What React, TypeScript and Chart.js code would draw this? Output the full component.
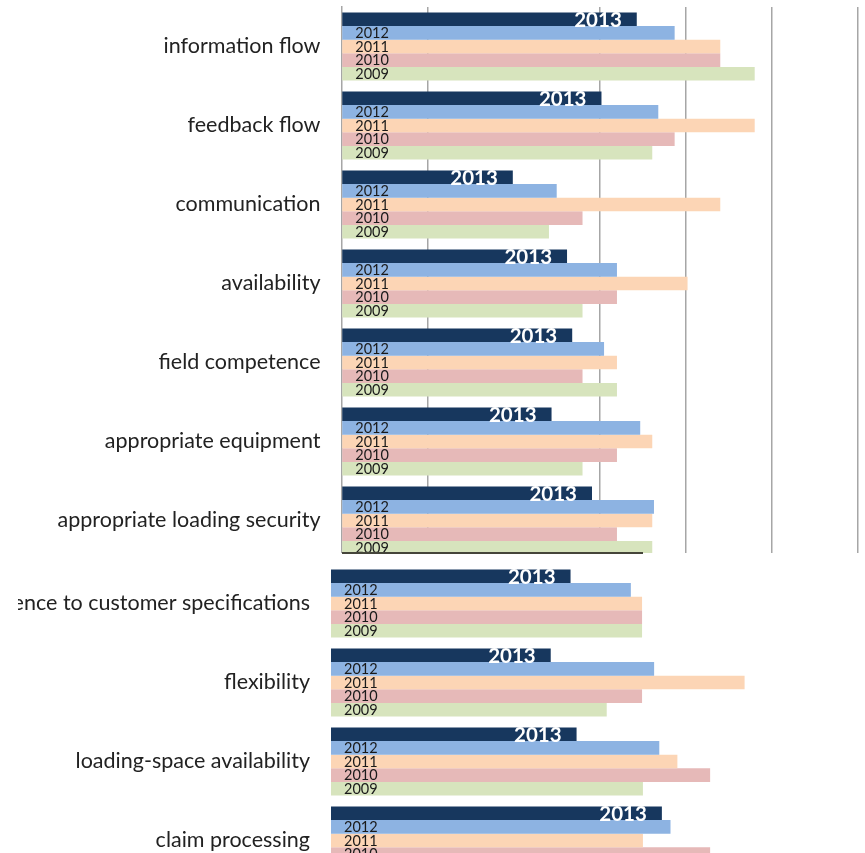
import React, { useEffect, useRef } from "react";
import { Chart, registerables } from "chart.js";

Chart.register(...registerables);

const seriesNames = ["2013", "2012", "2011", "2010", "2009"];
const seriesColors = ["#17375E", "#8DB3E2", "#FCD5B5", "#E6B9B8", "#D7E4BD"];

const topCategories = [
  "information flow",
  "feedback flow",
  "communication",
  "availability",
  "field competence",
  "appropriate equipment",
  "appropriate loading security",
];
const top2013 = [3.43, 3.02, 1.99, 2.62, 2.68, 2.44, 2.91];
const top2012 = [3.87, 3.68, 2.5, 3.2, 3.05, 3.47, 3.63];
const top2011 = [4.4, 4.8, 4.4, 4.02, 3.2, 3.61, 3.61];
const top2010 = [4.4, 3.87, 2.8, 3.2, 2.8, 3.2, 3.2];
const top2009 = [4.8, 3.61, 2.41, 2.8, 3.2, 2.8, 3.61];

const bottomCategories = [
  "adherence to customer specifications",
  "flexibility",
  "loading-space availability",
  "claim processing",
];
const bottom2013 = [2.78, 2.55, 2.85, 3.84];
const bottom2012 = [3.48, 3.75, 3.81, 3.94];
const bottom2011 = [3.61, 4.8, 4.02, 3.62];
const bottom2010 = [3.61, 3.61, 4.4, 4.4];
const bottom2009 = [3.61, 3.2, 3.62, 3.6];

const axisMin = 0;
const axisMax = 6;
const hiddenGridValues = [0, 2];

const FONT = "Lato, 'Open Sans', sans-serif";

const labelPlugin = {
  id: "seriesLabels",
  afterDatasetsDraw(chart: any) {
    const ctx = chart.ctx;
    ctx.save();
    chart.data.datasets.forEach((ds: any, i: number) => {
      const meta = chart.getDatasetMeta(i);
      meta.data.forEach((bar: any) => {
        const p = bar.getProps(["x", "y", "base"], true);
        ctx.textBaseline = "middle";
        if (i === 0) {
          ctx.font = `bold 20.5px ${FONT}`;
          ctx.fillStyle = "#ffffff";
          ctx.textAlign = "right";
          ctx.fillText(ds.label, p.x - 15, p.y + 1.5);
        } else {
          ctx.font = `14.5px ${FONT}`;
          ctx.fillStyle = "#1a1a1a";
          ctx.textAlign = "left";
          ctx.fillText(ds.label, p.base + 13, p.y + 0.5);
        }
      });
    });
    ctx.restore();
  },
};

function zeroPadding(s: any) {
  s.paddingTop = 0;
  s.paddingBottom = 0;
  s.paddingLeft = 0;
  s.paddingRight = 0;
}

function BarPanel(props: {
  categories: string[];
  series: number[][];
  axisLeft: number;
  width: number;
  height: number;
  padTop: number;
  padRight: number;
  showGrid: boolean;
}) {
  const ref = useRef<HTMLCanvasElement | null>(null);
  useEffect(() => {
    if (!ref.current) return;
    const chart = new Chart(ref.current, {
      type: "bar",
      data: {
        labels: props.categories,
        datasets: props.series.map((vals, i) => ({
          label: seriesNames[i],
          data: vals,
          backgroundColor: seriesColors[i],
          borderWidth: 0,
          barPercentage: 1,
          categoryPercentage: 0.861,
        })),
      },
      options: {
        indexAxis: "y",
        responsive: false,
        animation: false,
        devicePixelRatio: 1,
        layout: {
          autoPadding: false,
          padding: { top: props.padTop, right: props.padRight, left: 0, bottom: 0 },
        },
        plugins: { legend: { display: false }, tooltip: { enabled: false }, title: { display: false } },
        scales: {
          x: {
            type: "linear",
            min: axisMin,
            max: axisMax,
            ticks: { display: false, stepSize: 1 },
            grid: {
              display: props.showGrid,
              drawTicks: false,
              lineWidth: 1.5,
              color: (c: any) =>
                c.tick && hiddenGridValues.includes(c.tick.value) ? "rgba(0,0,0,0)" : "#a6a6a6",
            },
            border: { display: false },
            afterFit: (s: any) => {
              s.height = 0;
              zeroPadding(s);
            },
          },
          y: {
            type: "category",
            grid: { display: false, drawTicks: false },
            border: { display: props.showGrid, color: "#a6a6a6", width: 1.5 },
            ticks: {
              font: { family: FONT, size: 21.5 },
              color: "#222222",
              padding: 21,
              autoSkip: false,
            },
            afterFit: (s: any) => {
              s.width = props.axisLeft;
              zeroPadding(s);
            },
          },
        },
      },
      plugins: [labelPlugin],
    } as any);
    return () => chart.destroy();
  }, []);
  return <canvas ref={ref} width={props.width} height={props.height} style={{ display: "block" }} />;
}

export default function App() {
  return (
    <div style={{ position: "absolute", left: 0, top: 0, width: 865, height: 853, background: "#fff", overflow: "hidden" }}>
      <div style={{ position: "absolute", left: 0, top: 0, width: 865, height: 553, overflow: "hidden" }}>
        <BarPanel
          categories={topCategories}
          series={[top2013, top2012, top2011, top2010, top2009]}
          axisLeft={341.5}
          width={865}
          height={560}
          padTop={7}
          padRight={7}
          showGrid={true}
        />
      </div>
      <div style={{ position: "absolute", left: 342, top: 552, width: 301, height: 2, background: "#45453a" }} />
      <div style={{ position: "absolute", left: 18, top: 564, width: 847, height: 289, overflow: "hidden" }}>
        <div style={{ position: "absolute", left: -18, top: 0 }}>
          <BarPanel
            categories={bottomCategories}
            series={[bottom2013, bottom2012, bottom2011, bottom2010, bottom2009]}
            axisLeft={331}
            width={865}
            height={316}
            padTop={0}
            padRight={17}
            showGrid={false}
          />
        </div>
      </div>
    </div>
  );
}
